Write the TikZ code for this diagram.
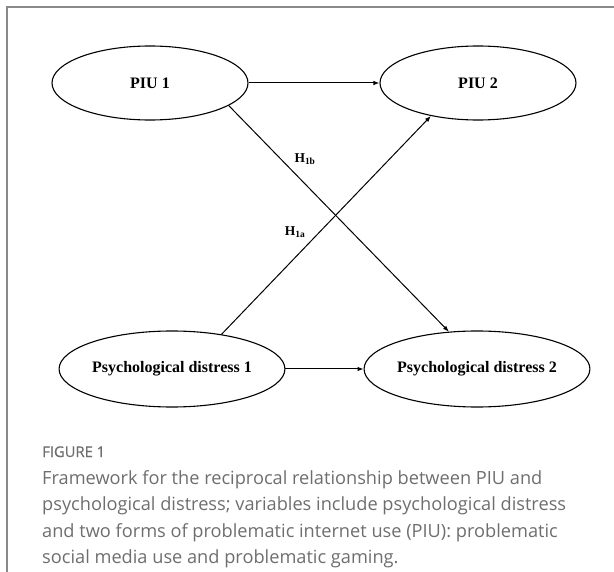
\documentclass[tikz,border=0pt]{standalone}
\usepackage{fontspec}
\setmainfont{Liberation Serif}
\newfontfamily\capfont{Open Sans}
\newfontfamily\figfont[FakeBold=0.7]{Open Sans}
\usetikzlibrary{shapes.geometric,arrows.meta}
\definecolor{framegray}{HTML}{8A8A8A}
\definecolor{captiongray}{HTML}{6E6E6E}
\begin{document}
\begin{tikzpicture}[x=1pt,y=-1pt,
  latent/.style={ellipse,draw,line width=1.1pt,inner sep=0pt,
    minimum width=196pt,font=\fontsize{16}{18}\selectfont\bfseries},
  path/.style={line width=1pt,-{Latex[length=6pt,width=4.5pt]}},
  hyp/.style={font=\fontsize{13.5}{15}\selectfont\bfseries,inner sep=0pt},
  caption/.style={anchor=base west,inner sep=0pt,text=captiongray,
    font=\capfont\fontsize{18.2}{20}\selectfont}]
  \useasboundingbox (0,0) rectangle (614,572);
  % frame edges
  \draw[framegray,line width=1.3pt] (7,572) -- (7,7) -- (614,7);

  % latent variables at two waves
  \node[latent,minimum height=74pt] (piu1) at (150,83) {PIU 1};
  \node[latent,minimum height=74pt] (piu2) at (478,83) {PIU 2};
  \node[latent,minimum height=76pt] (pd1) at (172,369) {Psychological distress 1};
  \node[latent,minimum height=76pt] (pd2) at (477,369) {Psychological distress 2};

  % stability paths
  \draw[path] (piu1) -- (piu2);
  \draw[path] (pd1) -- (pd2);
  % cross-lagged paths
  \draw[path] (piu1.-16) -- (pd2.127);
  \draw[path] (pd1.35) -- (piu2.215);

  \node[hyp] (h1b) at (305,159) {H$_{\mathbf{1b}}$};
  \node[hyp] (h1a) at (295,232) {H$_{\mathbf{1a}}$};

  % caption
  \node[caption,font=\figfont\fontsize{14.8}{16}\selectfont] (fig) at (42,457) {FIGURE 1};
  \node[caption] (cap1) at (42,484) {Framework for the reciprocal relationship between PIU and};
  \node[caption] (cap2) at (42,510.5) {psychological distress; variables include psychological distress};
  \node[caption] (cap3) at (42,537) {and two forms of problematic internet use (PIU): problematic};
  \node[caption] (cap4) at (42,563.5) {social media use and problematic gaming.};
\end{tikzpicture}
\end{document}
